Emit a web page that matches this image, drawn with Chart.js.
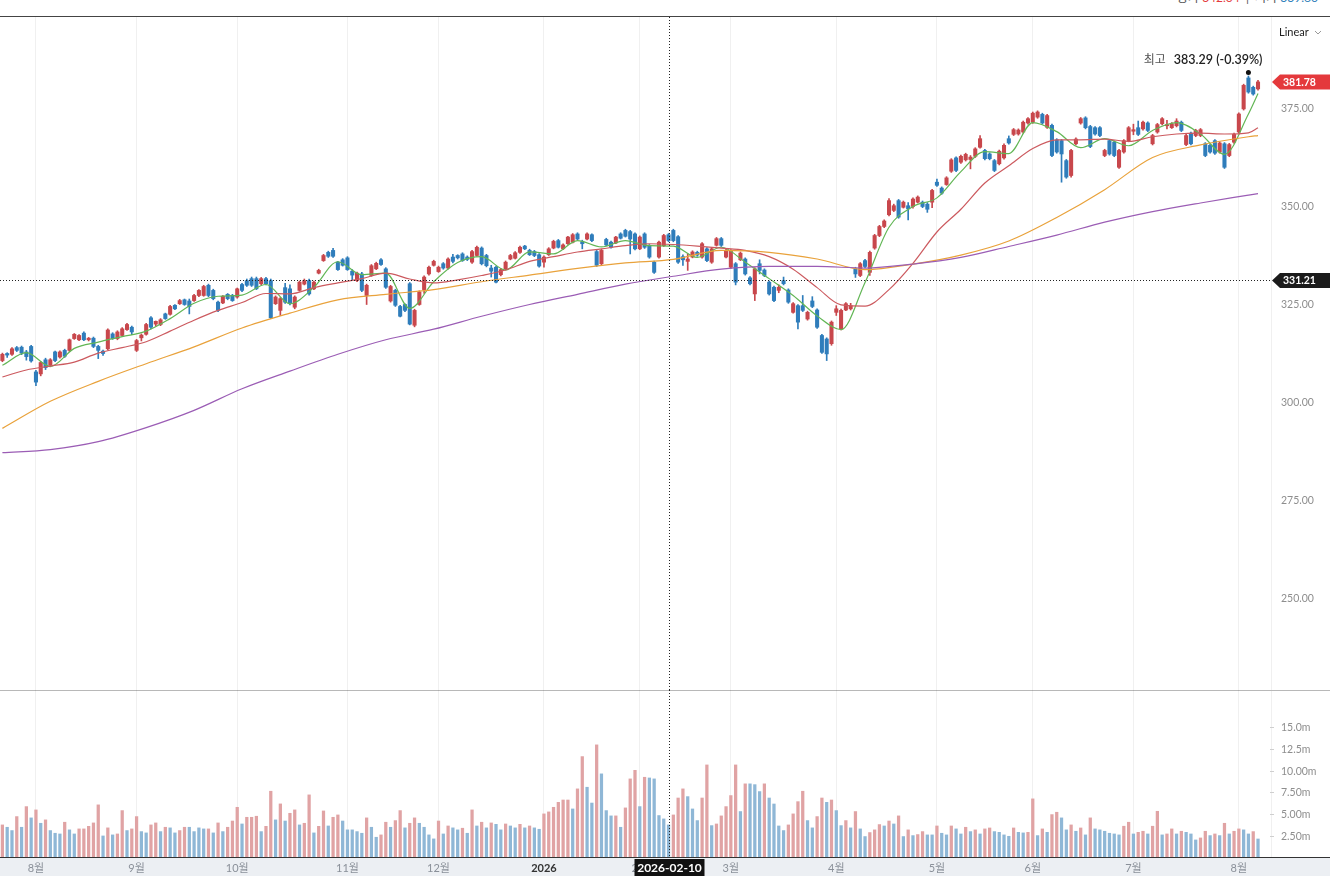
<!DOCTYPE html>
<html lang="ko">
<head>
<meta charset="utf-8">
<title>일봉 차트</title>
<script src="https://cdn.jsdelivr.net/npm/chart.js@4.4.1/dist/chart.umd.min.js"></script>
<style>
  body { margin: 0; background: #fff; }
  #wrap { position: relative; width: 1330px; height: 896px; overflow: hidden; font-family: Lato, 'Noto Sans CJK KR', sans-serif; }
  .abs { position: absolute; }
  #topinfo { top: -9px; left: 1177px; font-size: 12px; line-height: 14px; color: #555; white-space: nowrap; }
  #topinfo .up { color: #e4393c; }
  #topinfo .dn { color: #2d7db9; }
  #linear { top: 25px; left: 1279px; font-size: 11px; color: #222; }
</style>
</head>
<body>
<div id="wrap">
  <div id="topinfo" class="abs">종가 <span class="up">342.04</span> &nbsp;|&nbsp; 저가 <span class="dn">339.60</span></div>
  <div class="abs" style="left:0;top:16px;width:1330px;height:1px;background:#444"></div>
  <div class="abs" style="left:1271px;top:17px;width:1px;height:841px;background:#f0f0f0"></div>
  <div class="abs" style="left:0;top:858px;width:1330px;height:18px;background:#eceff3"></div>
  <div class="abs" style="left:0;top:17px;width:1330px;height:673px"><canvas id="price"></canvas></div>
  <div class="abs" style="left:0;top:690px;width:1330px;height:1px;background:#b8b8b8"></div>
  <div class="abs" style="left:0;top:690px;width:1330px;height:186px"><canvas id="vol"></canvas></div>
  <div class="abs" style="left:0;top:857px;width:1330px;height:1px;background:#333"></div>
  <div id="linear" class="abs">Linear <svg width="8" height="6" style="margin-left:3px"><path d="M1 1 L4 4 L7 1" stroke="#999" fill="none"/></svg></div>
</div>
<script>
// trading calendar
const firstDay = "2025-07-23";
const holidays = ["2025-09-01", "2025-11-27", "2025-12-25", "2026-01-01", "2026-01-19",
  "2026-02-16", "2026-04-03", "2026-05-25", "2026-06-19", "2026-07-03"];
const padDays = 2;
const monthNames = ["2026", "2월", "3월", "4월", "5월", "6월", "7월", "8월", "9월", "10월", "11월", "12월"];

// daily candles
const opens = [
  310.7, 312.5, 312.3, 314.0, 314.1, 312.9, 314.3, 307.8, 307.3, 310.9,
  309.5, 312.9, 311.6, 313.3, 313.3, 316.3, 316.0, 317.7, 316.0, 316.4,
  314.3, 313.1, 313.7, 317.5, 316.3, 317.1, 318.6, 319.2, 313.3, 316.5,
  317.4, 321.6, 320.0, 319.9, 322.6, 322.5, 324.8, 325.2, 326.2, 325.9,
  326.0, 327.3, 327.3, 329.9, 328.6, 325.6, 325.4, 327.6, 327.3, 326.9,
  330.1, 331.1, 331.6, 331.6, 330.3, 331.6, 331.1, 325.2, 323.5, 329.3,
  329.0, 324.3, 328.6, 330.2, 331.1, 329.0, 333.0, 336.2, 338.3, 338.8,
  335.8, 336.4, 336.9, 333.5, 331.1, 332.8, 327.3, 332.4, 334.1, 336.4,
  334.1, 325.9, 328.6, 324.5, 325.0, 330.3, 319.7, 325.0, 328.8, 332.8,
  335.0, 333.4, 335.4, 334.3, 337.1, 337.5, 337.9, 337.1, 335.8, 337.5,
  339.4, 337.5, 334.3, 334.5, 332.6, 334.1, 336.6, 336.8, 338.3, 339.9,
  338.8, 338.5, 337.7, 335.8, 337.7, 339.4, 341.3, 339.2, 340.5, 340.9,
  343.0, 341.0, 341.7, 342.8, 338.5, 335.4, 341.6, 340.9, 340.7, 343.0,
  343.9, 343.6, 343.0, 339.2, 343.0, 340.0, 335.8, 337.1, 340.0, 342.8,
  343.9, 342.3, 337.2, 336.0, 337.1, 338.3, 337.1, 339.2, 335.8, 340.1,
  341.8, 337.1, 334.5, 335.4, 336.4, 336.6, 331.8, 327.7, 335.4, 333.8,
  330.7, 329.4, 328.6, 331.1, 328.7, 323.0, 324.7, 324.7, 321.3, 325.9,
  323.6, 317.1, 316.2, 315.0, 323.0, 318.8, 323.6, 323.9, 334.1, 332.4,
  336.2, 333.2, 339.4, 342.6, 344.9, 347.9, 349.0, 351.5, 349.8, 350.2,
  350.0, 351.1, 351.1, 350.6, 351.1, 356.2, 354.7, 355.6, 359.0, 362.4,
  361.3, 361.9, 362.0, 362.8, 365.1, 364.3, 363.4, 361.7, 360.9, 362.4,
  367.3, 368.4, 368.5, 369.0, 371.3, 371.5, 372.8, 373.5, 370.2, 370.7,
  367.0, 366.8, 361.7, 357.9, 366.0, 371.3, 372.6, 370.4, 370.1, 370.1,
  363.0, 366.8, 366.4, 360.0, 363.9, 366.8, 369.2, 370.1, 369.8, 371.3,
  366.0, 369.0, 371.1, 370.6, 370.1, 370.6, 371.5, 365.8, 368.7, 368.1,
  368.1, 366.0, 365.6, 366.8, 363.9, 366.0, 363.0, 366.4, 369.0, 374.9,
  382.8, 380.4, 380.0
];
const highs = [
  312.6, 312.7, 314.0, 314.3, 314.4, 313.3, 314.6, 308.2, 310.5, 311.3,
  311.2, 313.1, 313.2, 313.6, 316.2, 317.6, 317.3, 318.0, 316.6, 316.7,
  314.6, 313.4, 318.8, 317.8, 318.3, 319.1, 320.2, 319.5, 316.1, 317.5,
  320.2, 321.9, 320.8, 321.4, 322.8, 324.8, 325.0, 326.3, 326.4, 326.4,
  327.6, 328.8, 329.9, 330.2, 328.9, 325.9, 327.3, 327.8, 327.6, 329.2,
  330.4, 331.5, 332.0, 332.0, 331.9, 331.9, 331.5, 327.2, 326.8, 330.4,
  330.0, 327.2, 331.0, 331.5, 331.5, 331.0, 334.0, 337.8, 338.6, 339.3,
  336.0, 336.7, 337.2, 333.9, 333.3, 333.2, 330.2, 335.2, 335.8, 336.7,
  334.4, 329.9, 328.9, 324.8, 325.2, 330.6, 323.8, 328.5, 332.3, 334.8,
  336.3, 334.8, 335.7, 336.9, 337.8, 337.7, 338.2, 337.4, 338.8, 339.9,
  339.7, 337.8, 335.0, 334.8, 334.2, 336.1, 337.8, 338.5, 339.9, 340.1,
  339.1, 338.8, 338.0, 337.4, 339.5, 341.4, 341.6, 340.5, 342.4, 343.1,
  343.3, 341.4, 343.3, 343.0, 338.8, 339.1, 341.9, 341.2, 342.4, 343.3,
  344.2, 343.9, 343.3, 342.5, 343.3, 340.3, 336.1, 341.2, 342.9, 343.1,
  344.2, 342.6, 337.7, 337.9, 338.7, 338.6, 340.8, 339.5, 339.5, 342.1,
  342.1, 339.1, 339.0, 335.7, 338.4, 336.9, 332.1, 334.4, 336.4, 334.1,
  331.0, 329.7, 330.0, 332.0, 329.0, 325.5, 325.0, 327.3, 323.3, 327.0,
  323.9, 317.4, 316.5, 320.8, 324.7, 323.8, 325.5, 325.3, 334.5, 335.7,
  336.5, 338.6, 342.9, 345.2, 346.6, 352.0, 350.6, 351.8, 351.4, 351.0,
  352.2, 352.7, 351.4, 351.0, 354.4, 357.0, 355.0, 357.6, 362.2, 362.7,
  363.1, 363.6, 363.0, 365.0, 368.1, 364.6, 363.7, 362.0, 364.4, 366.0,
  368.0, 369.9, 369.8, 371.8, 372.7, 374.1, 374.4, 373.8, 373.5, 371.0,
  367.3, 367.1, 362.0, 364.6, 367.5, 372.7, 372.9, 370.7, 370.4, 370.4,
  364.6, 367.1, 366.7, 364.6, 367.1, 370.4, 371.0, 371.8, 371.8, 371.6,
  368.4, 371.2, 372.7, 372.0, 371.4, 372.4, 371.8, 368.4, 369.0, 369.7,
  369.9, 366.3, 365.9, 367.1, 366.5, 366.3, 366.1, 368.7, 373.9, 381.2,
  383.29, 380.7, 382.2
];
const lows = [
  310.4, 311.5, 312.0, 313.0, 312.2, 310.8, 310.3, 304.3, 306.8, 308.4,
  309.1, 310.4, 311.3, 311.5, 313.0, 316.1, 315.8, 315.8, 315.7, 314.0,
  311.2, 312.0, 313.4, 316.1, 316.0, 316.9, 318.4, 317.3, 313.0, 315.7,
  317.2, 318.8, 319.5, 319.6, 321.2, 322.3, 323.7, 325.0, 324.8, 322.6,
  325.8, 327.0, 327.1, 327.0, 326.2, 323.2, 325.2, 326.2, 325.8, 326.6,
  328.3, 329.6, 329.6, 328.8, 330.0, 330.0, 321.4, 325.0, 322.2, 325.3,
  324.9, 323.9, 328.4, 330.0, 327.4, 328.8, 332.8, 336.0, 337.0, 337.0,
  333.7, 334.8, 333.7, 331.2, 330.8, 328.3, 325.0, 332.2, 333.9, 335.0,
  329.1, 325.6, 324.5, 321.8, 323.2, 319.8, 319.3, 324.8, 327.8, 332.5,
  334.8, 333.2, 334.0, 334.0, 335.6, 336.6, 336.0, 336.2, 335.5, 337.3,
  335.1, 334.6, 332.0, 330.5, 332.3, 333.8, 336.4, 336.6, 338.0, 339.0,
  337.5, 337.2, 334.5, 334.5, 337.5, 339.2, 339.4, 339.0, 340.3, 340.7,
  341.5, 339.2, 341.5, 341.0, 334.7, 335.1, 340.0, 339.4, 340.5, 341.7,
  342.2, 337.9, 338.9, 339.0, 339.3, 336.8, 332.9, 336.8, 339.8, 341.0,
  341.0, 335.5, 335.0, 333.7, 336.9, 337.3, 336.8, 335.9, 335.5, 339.9,
  339.8, 336.9, 334.2, 330.0, 336.2, 332.5, 330.0, 326.0, 332.8, 332.1,
  327.4, 325.7, 328.0, 330.0, 325.3, 322.8, 318.8, 323.2, 321.0, 324.2,
  318.9, 312.5, 310.7, 314.6, 322.2, 318.5, 323.4, 323.6, 331.9, 332.1,
  334.4, 332.4, 339.1, 342.3, 344.6, 347.6, 348.7, 347.0, 349.6, 346.6,
  349.6, 350.9, 349.7, 348.5, 349.7, 355.1, 353.1, 355.4, 358.7, 358.9,
  361.0, 361.6, 359.6, 362.5, 364.9, 361.9, 361.9, 358.9, 360.6, 362.1,
  365.9, 368.1, 368.2, 368.7, 371.0, 371.2, 372.5, 371.0, 369.9, 362.7,
  363.6, 356.2, 357.2, 357.5, 365.7, 371.0, 369.8, 365.0, 368.2, 367.8,
  362.7, 363.1, 362.7, 359.7, 363.6, 366.5, 368.3, 368.1, 369.5, 369.1,
  365.7, 368.7, 370.8, 369.8, 369.9, 370.3, 369.1, 365.5, 365.7, 367.8,
  367.8, 362.7, 363.6, 363.3, 363.6, 359.7, 362.7, 366.1, 368.7, 374.6,
  378.9, 378.4, 379.7
];
const closes = [
  312.3, 312.1, 313.7, 313.3, 312.6, 311.7, 310.6, 305.2, 310.2, 308.9,
  310.9, 310.7, 312.9, 311.8, 316.0, 317.4, 317.1, 316.0, 316.4, 314.3,
  313.3, 312.5, 318.5, 316.3, 318.0, 318.8, 319.9, 318.0, 315.8, 317.2,
  319.9, 319.2, 320.7, 321.1, 321.4, 324.5, 323.9, 326.0, 325.0, 324.5,
  327.3, 328.6, 329.6, 327.3, 326.5, 323.5, 327.1, 326.5, 326.0, 329.0,
  328.6, 329.9, 329.9, 329.0, 331.6, 330.3, 321.6, 326.9, 326.5, 325.6,
  325.2, 326.9, 330.7, 331.1, 327.7, 330.7, 333.7, 337.5, 337.3, 337.3,
  333.9, 335.0, 333.9, 332.5, 333.0, 328.6, 329.9, 334.9, 335.5, 335.2,
  329.4, 329.6, 324.8, 322.0, 323.5, 320.0, 323.5, 328.2, 332.0, 334.5,
  336.0, 334.5, 334.3, 336.6, 336.0, 336.9, 336.2, 336.5, 338.5, 339.6,
  335.4, 334.9, 333.5, 330.7, 333.9, 335.8, 337.5, 338.2, 339.6, 339.2,
  337.7, 337.5, 334.8, 337.1, 339.2, 341.1, 339.6, 340.2, 342.2, 342.8,
  341.7, 340.5, 343.0, 341.3, 335.0, 338.8, 340.2, 339.6, 342.2, 341.9,
  342.4, 341.7, 339.2, 342.2, 339.6, 337.1, 333.2, 340.9, 342.6, 341.3,
  341.3, 335.8, 336.4, 336.6, 338.4, 337.6, 340.5, 336.2, 339.2, 341.8,
  340.1, 338.8, 338.6, 330.7, 338.1, 332.8, 330.3, 334.1, 333.7, 332.4,
  327.7, 326.0, 329.4, 330.3, 325.6, 325.2, 320.5, 323.5, 323.0, 324.5,
  319.2, 312.8, 312.4, 320.5, 323.9, 323.5, 325.2, 324.7, 332.8, 335.4,
  334.7, 338.3, 342.6, 344.9, 346.3, 351.5, 350.2, 347.3, 351.1, 349.4,
  351.9, 352.4, 350.0, 349.3, 354.1, 355.4, 353.4, 357.3, 361.9, 359.2,
  362.8, 363.3, 362.6, 364.7, 367.3, 362.2, 362.2, 359.2, 364.1, 365.6,
  366.2, 369.6, 369.5, 371.5, 372.4, 373.8, 374.1, 371.3, 373.2, 363.0,
  363.9, 363.4, 357.5, 364.3, 367.2, 372.4, 370.1, 365.3, 368.5, 368.1,
  364.3, 363.4, 363.0, 364.3, 366.8, 370.1, 369.6, 368.4, 371.5, 369.4,
  368.1, 370.9, 372.4, 370.9, 371.1, 371.8, 369.4, 368.1, 366.0, 369.4,
  369.6, 363.0, 363.9, 363.6, 366.2, 360.0, 365.8, 368.4, 373.6, 380.9,
  379.2, 378.7, 381.78
];

// volume, millions of shares
const volumes = [
  3.81, 3.54, 3.16, 4.77, 3.54, 5.92, 4.62, 5.54, 4.00, 4.39,
  3.16, 2.85, 2.77, 4.12, 3.24, 2.77, 3.35, 3.35, 3.65, 4.04,
  6.12, 2.54, 3.47, 2.66, 2.77, 5.46, 3.16, 3.35, 4.77, 3.04,
  2.89, 3.81, 4.04, 3.04, 3.54, 3.47, 2.89, 3.16, 3.54, 3.54,
  3.04, 3.47, 3.35, 3.35, 2.89, 4.04, 3.04, 3.54, 4.26, 5.84,
  3.92, 4.69, 4.69, 4.81, 3.04, 3.65, 7.69, 4.39, 6.23, 4.26,
  5.15, 5.54, 3.81, 4.00, 7.27, 2.89, 3.65, 5.42, 3.69, 4.69,
  4.96, 4.26, 3.24, 3.24, 3.04, 2.85, 4.62, 3.54, 2.39, 2.66,
  4.12, 3.54, 4.31, 5.46, 3.47, 4.00, 4.62, 4.00, 3.54, 2.66,
  2.20, 4.26, 2.77, 3.69, 3.47, 3.24, 3.43, 2.85, 5.54, 3.69,
  4.12, 3.47, 4.04, 3.88, 3.24, 3.92, 3.69, 3.47, 3.88, 3.47,
  3.69, 3.47, 3.31, 5.08, 5.31, 5.84, 6.41, 6.68, 6.68, 5.65,
  7.96, 11.68, 8.15, 6.33, 13.03, 9.69, 5.46, 4.85, 4.85, 3.54,
  5.77, 9.11, 10.10, 5.92, 9.30, 9.22, 9.11, 4.89, 4.50, 3.81,
  4.96, 6.91, 7.96, 7.07, 5.65, 4.31, 6.91, 10.72, 3.73, 3.92,
  4.85, 5.92, 7.19, 10.72, 5.35, 8.54, 8.54, 8.45, 7.65, 8.54,
  6.91, 6.22, 3.69, 3.16, 3.81, 5.08, 6.49, 7.69, 4.31, 3.47,
  4.77, 6.91, 6.41, 6.68, 5.46, 3.73, 4.31, 3.47, 5.35, 3.35,
  2.47, 2.93, 3.24, 3.85, 3.69, 4.26, 3.92, 4.85, 2.47, 3.24,
  2.58, 2.70, 3.04, 2.66, 2.66, 3.69, 2.85, 2.66, 3.69, 3.35,
  2.77, 3.54, 3.04, 3.24, 2.77, 3.35, 3.46, 3.04, 2.96, 2.66,
  2.50, 3.46, 2.96, 2.89, 2.96, 6.81, 2.58, 3.35, 2.96, 5.00,
  5.27, 4.62, 3.24, 3.81, 3.08, 3.46, 2.66, 4.62, 3.35, 3.24,
  3.08, 2.85, 2.77, 2.66, 3.66, 4.12, 2.77, 2.96, 3.08, 2.77,
  3.66, 5.38, 2.66, 2.77, 3.35, 2.77, 3.08, 2.96, 2.77, 2.08,
  2.31, 3.08, 2.58, 2.77, 2.58, 4.00, 2.77, 3.08, 3.35, 3.24,
  2.77, 3.04, 2.19
];
// R = rising-day volume bar, B = falling-day volume bar (10 sessions per chunk)
const volDir =
  "RBBRBRBRBR" + "BBBRBBRRRR" + "RBRBRRBRRB" + "BRRBRBBRRB" + "BBBRBRBRRR" +
  "BRRRBRRBRB" + "RRBRRBRRBR" + "RBBBBBRBBR" + "RBRRBRRBBB" + "BRBRBBRBRB" +
  "RBRBBRBBRB" + "RBBRRRRRRB" + "RRBBRBBBRB" + "RRRBRBBBBB" + "RRRBBBRRBR" +
  "RRRRBRBBBR" + "BBBBRRRRBB" + "RRBRBBRBRB" + "BRRRBRBRBR" + "BRRBBRBBRB" +
  "BRBRBRRBBB" + "BRBBRRBRBR" + "RBBRBRBRBB" + "BBBBRRBRRB" + "RRBRRBRBBB" +
  "RRBRBRBRRB" + "BRB";

// moving averages: 5/20-day every 5 sessions, 60/120-day every 10 (last point = last session)
const ma5 = [
  309.5, 312.7, 309.2, 313.8, 315.4, 316.8, 318.2, 321.4, 325.3, 327.1,
  327.4, 330.1, 325.2, 329.4, 335.9, 332.6, 333.0, 324.0, 330.8, 335.7,
  337.2, 333.8, 338.4, 337.9, 341.3, 339.7, 341.3, 340.0, 339.9, 337.0,
  339.6, 335.8, 331.6, 327.3, 322.1, 318.6, 330.6, 344.7, 350.0, 352.2,
  358.9, 364.0, 363.5, 371.4, 369.1, 365.0, 367.3, 365.5, 369.4, 371.4,
  368.5, 363.3, 373.6, 378.8
];
const ma20 = [
  306.5, 308.3, 309.3, 310.3, 312.6, 314.0, 315.5, 318.2, 321.0, 323.5,
  325.5, 327.8, 327.7, 329.3, 330.5, 331.6, 333.0, 331.5, 330.5, 331.3,
  332.4, 333.8, 336.0, 337.2, 338.4, 339.2, 340.0, 340.5, 340.3, 339.9,
  339.4, 338.8, 337.2, 334.0, 329.3, 324.9, 324.6, 328.8, 335.5, 343.5,
  349.3, 356.0, 360.4, 364.8, 367.0, 367.0, 367.2, 366.6, 367.8, 368.5,
  368.7, 368.5, 368.8, 370.1
];
const ma60 = [
  293.4, 300.3, 305.4, 309.9, 314.2, 319.0, 322.8, 326.2, 327.6, 328.8,
  330.8, 332.5, 334.2, 335.6, 336.5, 338.8, 338.3, 336.6, 333.9, 335.3,
  337.6, 341.2, 347.2, 354.3, 362.5, 365.7, 367.8, 368.1
];
const ma120 = [
  287.2, 288.0, 290.0, 293.6, 298.0, 303.5, 308.0, 312.3, 316.0, 318.7,
  322.0, 325.0, 327.6, 330.2, 332.2, 334.0, 334.7, 334.7, 334.3, 335.3,
  337.0, 339.8, 342.7, 346.0, 348.7, 350.9, 352.9, 353.3
];

const priceTicks = [250, 275, 300, 325, 350, 375];
const volTicks = [2.5, 5, 7.5, 10, 12.5, 15];
const volTickLabels = ["2.50m", "5.00m", "7.50m", "10.00m", "12.5m", "15.0m"];
const crossDate = "2026-02-10";
const crossPrice = 331.21;
const highText = "383.29 (-0.39%)";

// ---- build
const UP = "#c8474c", DOWN = "#2f7dbb";
const VUP = "#e0a3a4", VDOWN = "#8fb7d6";
const GRID = "rgba(0,0,0,0.06)";
const FONT = "Lato, 'Noto Sans CJK KR', sans-serif";
Chart.defaults.font.family = FONT;

function tradingDays(start, count) {
  let out = [];
  let d = new Date(start + "T00:00:00Z");
  while (out.length < count) {
    let wd = d.getUTCDay();
    let s = d.toISOString().slice(0, 10);
    if (wd !== 0 && wd !== 6 && !holidays.includes(s)) out.push(s);
    d.setUTCDate(d.getUTCDate() + 1);
  }
  return out;
}
const dates = tradingDays(firstDay, closes.length + padDays);
const last = closes.length - 1;

function monthStart(i) {
  return i > 0 && i < dates.length && dates[i].slice(5, 7) !== dates[i - 1].slice(5, 7);
}
function monthLabel(i) {
  return monthNames[parseInt(dates[i].slice(5, 7), 10) - 1];
}
function sparse(samples, step) {
  let arr = new Array(dates.length).fill(null);
  samples.forEach((v, k) => { arr[Math.min(k * step, last)] = v; });
  return arr;
}
const candleColor = (c) => closes[c.dataIndex] >= opens[c.dataIndex] ? UP : DOWN;
const crossIdx = dates.indexOf(crossDate);
const highIdx = highs.indexOf(Math.max(...highs));

function maLine(samples, step, color) {
  return {
    type: "line", data: sparse(samples, step), borderColor: color, borderWidth: 1.2,
    pointRadius: 0, spanGaps: true, cubicInterpolationMode: "monotone", order: 1
  };
}

function drawTag(ctx, x0, yc, color, text, w) {
  ctx.fillStyle = color;
  ctx.beginPath();
  ctx.moveTo(x0, yc);
  ctx.lineTo(x0 + 8, yc - 7.5);
  ctx.lineTo(w, yc - 7.5);
  ctx.lineTo(w, yc + 7.5);
  ctx.lineTo(x0 + 8, yc + 7.5);
  ctx.closePath();
  ctx.fill();
  ctx.fillStyle = "#fff";
  ctx.font = "bold 10.5px " + FONT;
  ctx.textAlign = "left";
  ctx.textBaseline = "middle";
  ctx.fillText(text, x0 + 11, yc + 0.5);
}

const priceOverlay = {
  id: "priceOverlay",
  afterDraw(chart) {
    const { ctx, chartArea, scales } = chart;
    const cx = Math.round(scales.x.getPixelForValue(crossIdx)) + 0.5;
    const cy = Math.round(scales.y.getPixelForValue(crossPrice)) + 0.5;
    ctx.save();
    ctx.strokeStyle = "#222";
    ctx.lineWidth = 1;
    ctx.setLineDash([1, 2]);
    ctx.beginPath(); ctx.moveTo(cx, chartArea.top); ctx.lineTo(cx, chartArea.bottom); ctx.stroke();
    ctx.beginPath(); ctx.moveTo(chartArea.left, cy); ctx.lineTo(chartArea.right, cy); ctx.stroke();
    ctx.setLineDash([]);

    // highest point marker
    const hx = scales.x.getPixelForValue(highIdx);
    const hy = scales.y.getPixelForValue(highs[highIdx]) - 3.5;
    ctx.fillStyle = "#111";
    ctx.beginPath(); ctx.arc(hx, hy, 2.5, 0, Math.PI * 2); ctx.fill();
    ctx.textBaseline = "middle";
    ctx.textAlign = "right";
    ctx.font = "600 12.5px " + FONT;
    ctx.fillStyle = "#222";
    const tx = hx + 14, ty = hy - 12.5;
    ctx.fillText(highText, tx, ty);
    const tw = ctx.measureText(highText).width;
    ctx.font = "12px " + FONT;
    ctx.fillStyle = "#555";
    ctx.fillText("최고", tx - tw - 8, ty);

    drawTag(ctx, chartArea.right + 2, scales.y.getPixelForValue(closes[last]), "#e4393c", closes[last].toFixed(2), chart.width);
    drawTag(ctx, chartArea.right + 2, cy, "#1b1b1b", crossPrice.toFixed(2), chart.width);
    ctx.restore();
  }
};

const volOverlay = {
  id: "volOverlay",
  afterDraw(chart) {
    const { ctx, chartArea, scales } = chart;
    const cx = Math.round(scales.x.getPixelForValue(crossIdx)) + 0.5;
    ctx.save();
    ctx.strokeStyle = "#222";
    ctx.lineWidth = 1;
    ctx.setLineDash([1, 2]);
    ctx.beginPath(); ctx.moveTo(cx, chartArea.top); ctx.lineTo(cx, chartArea.bottom); ctx.stroke();
    ctx.setLineDash([]);
    ctx.fillStyle = "#111";
    ctx.fillRect(cx - 35, chartArea.bottom + 1, 70, 18);
    ctx.fillStyle = "#fff";
    ctx.font = "bold 12px " + FONT;
    ctx.textAlign = "center";
    ctx.textBaseline = "middle";
    ctx.fillText(crossDate, cx, chartArea.bottom + 10);
    ctx.restore();
  }
};

const xGrid = { offset: false, drawTicks: false, color: (c) => monthStart(c.index) ? GRID : "transparent" };
const common = {
  responsive: true, maintainAspectRatio: false, animation: false, events: [],
  layout: { padding: 0, autoPadding: false },
  plugins: { legend: { display: false }, tooltip: { enabled: false } }
};

new Chart(document.getElementById("price"), {
  type: "bar",
  data: {
    labels: dates,
    datasets: [
      maLine(ma120, 10, "#9b5db5"),
      maLine(ma60, 10, "#e9a23b"),
      maLine(ma20, 5, "#cc5a5f"),
      maLine(ma5, 5, "#62b655"),
      {
        data: lows.map((l, i) => [l, highs[i]]), backgroundColor: candleColor,
        barThickness: 1, grouped: false, order: 3
      },
      {
        data: opens.map((o, i) => [Math.min(o, closes[i]), Math.max(o, closes[i])]),
        backgroundColor: candleColor, barThickness: 3.4, minBarLength: 1, grouped: false, order: 2
      }
    ]
  },
  options: {
    ...common,
    scales: {
      x: {
        offset: true, grid: xGrid, border: { display: false },
        ticks: { display: false, autoSkip: false },
        afterFit: (s) => { s.height = 0; s.paddingLeft = 0; s.paddingRight = 0; }
      },
      y: {
        position: "right", min: 226.66, max: 398.34,
        afterBuildTicks: (s) => { s.ticks = priceTicks.map((v) => ({ value: v })); },
        ticks: { callback: (v) => Number(v).toFixed(2), color: "#8e8e8e", font: { size: 10.5 }, padding: 11 },
        grid: { display: false, drawTicks: false }, border: { display: false },
        afterFit: (s) => { s.width = 60; s.paddingTop = 0; s.paddingBottom = 0; }
      }
    }
  },
  plugins: [priceOverlay]
});

new Chart(document.getElementById("vol"), {
  type: "bar",
  data: {
    labels: dates,
    datasets: [{
      data: volumes,
      backgroundColor: (c) => volDir[c.dataIndex] === "R" ? VUP : VDOWN,
      barThickness: 2.6, grouped: false
    }]
  },
  options: {
    ...common,
    scales: {
      x: {
        offset: true, grid: xGrid, border: { display: false },
        ticks: {
          autoSkip: false, maxRotation: 0, minRotation: 0, padding: 4,
          callback: (v, i) => monthStart(i) ? monthLabel(i) : "",
          color: (c) => monthLabel(c.index) === "2026" ? "#333" : "#8a9099",
          font: (c) => ({ size: 11, weight: monthLabel(c.index) === "2026" ? "bold" : "normal" })
        },
        afterFit: (s) => { s.height = 18; s.paddingLeft = 0; s.paddingRight = 0; }
      },
      y: {
        position: "right", min: 0, max: 19.35,
        afterBuildTicks: (s) => { s.ticks = volTicks.map((v) => ({ value: v })); },
        ticks: { callback: (v, i) => volTickLabels[i], color: "#8e8e8e", font: { size: 10.5 }, padding: 7 },
        grid: { drawOnChartArea: false, tickLength: 4, color: "#cfcfcf" }, border: { display: false },
        afterFit: (s) => { s.width = 60; s.paddingTop = 0; s.paddingBottom = 0; }
      }
    }
  },
  plugins: [volOverlay]
});
</script>
</body>
</html>
